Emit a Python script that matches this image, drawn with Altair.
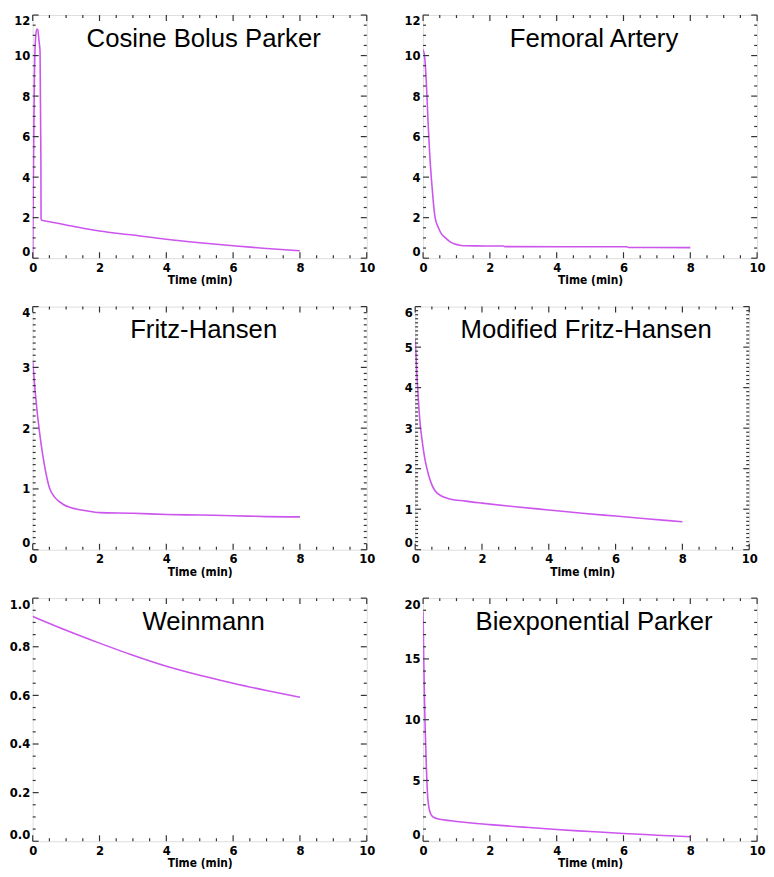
import altair as alt
import numpy as np
import pandas as pd

titles = ["Cosine Bolus Parker", "Femoral Artery", "Fritz-Hansen",
          "Modified Fritz-Hansen", "Weinmann", "Biexponential Parker"]

cbp_t = [0, 0.02, 0.05, 0.08, 0.12, 0.15, 0.19, 0.22, 0.245, 0.25, 0.27, 0.5, 1, 1.5, 2, 3, 4, 5, 6, 7, 8]
cbp_v = [0, 4.0, 8.8, 10.7, 11.3, 11.3, 10.7, 10.2, 5.0, 1.95, 1.87, 1.8, 1.64, 1.48, 1.34, 1.14, 0.93, 0.76, 0.61, 0.48, 0.37]

fa_t = [0, 0.05, 0.1, 0.15, 0.2, 0.25, 0.3, 0.36, 0.46, 0.55, 0.67, 0.8, 0.95, 1.1, 1.3, 2.4, 2.45, 6.1, 6.15, 8]
fa_v = [10.3, 9.9, 8.6, 6.7, 5.1, 3.9, 2.9, 2.0, 1.5, 1.2, 1.0, 0.82, 0.7, 0.64, 0.61, 0.6, 0.57, 0.56, 0.53, 0.52]

fh_t = [0, 0.1, 0.2, 0.3, 0.4, 0.5, 0.65, 0.8, 0.93, 1.1, 1.3, 1.6, 2, 3, 4, 5, 6, 7, 8]
fh_v = [3.1, 2.45, 1.95, 1.56, 1.25, 1.02, 0.87, 0.79, 0.74, 0.7, 0.67, 0.64, 0.61, 0.6, 0.58, 0.57, 0.56, 0.545, 0.54]

mfh_t = [0, 0.05, 0.1, 0.15, 0.2, 0.3, 0.4, 0.5, 0.6, 0.8, 1.0, 1.5, 2, 3, 4, 5, 6, 7, 8]
mfh_v = [5.2, 4.35, 3.65, 3.1, 2.75, 2.2, 1.85, 1.6, 1.45, 1.32, 1.26, 1.2, 1.15, 1.06, 0.98, 0.9, 0.83, 0.76, 0.69]

wm_t = [0, 1, 2, 3, 4, 5, 6, 7, 8]
wm_v = [0.925, 0.868, 0.815, 0.765, 0.72, 0.683, 0.65, 0.62, 0.592]

bp_t = [0, 0.02, 0.04, 0.06, 0.08, 0.1, 0.12, 0.14, 0.18, 0.22, 0.3, 0.4, 0.6, 1, 2, 3, 4, 5, 6, 7, 8]
bp_v = [18.9, 15.0, 12.0, 9.6, 7.8, 6.0, 4.6, 3.6, 2.7, 2.3, 2.0, 1.88, 1.77, 1.63, 1.37, 1.16, 0.96, 0.8, 0.64, 0.5, 0.37]

series_t = [cbp_t, fa_t, fh_t, mfh_t, wm_t, bp_t]
series_v = [cbp_v, fa_v, fh_v, mfh_v, wm_v, bp_v]

y_max = [12, 12, 4, 6, 1.0, 20]
y_major = [2, 2, 1, 1, 0.2, 5]
y_minor = [0.5, 0.5, 0.1, 0.1, 0.05, 1]
y_fmt = ["d", "d", "d", "d", ".1f", "d"]

x_max = 10
x_major = 2
x_minor = 0.5

W, H = 338, 246
LINE = "#cc55ee"
FRAME = "#333333"
FONT = "DejaVu Sans Condensed, Liberation Sans, sans-serif"
MAJ, MIN = 6, 3

AX_STYLE = dict(labelFont=FONT, labelFontWeight="bold", labelFontSize=13, labelColor="black",
                titleFont=FONT, titleFontWeight="bold", titleFontSize=12, titleColor="black",
                labelPadding=3, titlePadding=1, minExtent=0, ticks=False, grid=False, domain=False)


def tick_vals(top, step):
    n = int(round(top / step))
    return [round(k * step, 4) for k in range(n + 1)]


def panel(i):
    xs = alt.Scale(domain=[0, x_max], nice=False, zero=False)
    ys = alt.Scale(domain=[0, y_max[i]], nice=False, zero=False)
    df = pd.DataFrame({"t": series_t[i], "v": series_v[i]})
    ymaj = tick_vals(y_max[i], y_major[i])
    ymin = [v for v in tick_vals(y_max[i], y_minor[i]) if v not in ymaj]
    xmaj = tick_vals(x_max, x_major)
    xmin = [v for v in tick_vals(x_max, x_minor) if v not in xmaj]

    xaxis = alt.Axis(title="Time (min)", values=xmaj, format="d", labelFlush=False, **AX_STYLE)
    yaxis = alt.Axis(title=None, values=ymaj, format=y_fmt[i], labelFlush=True, **AX_STYLE)

    line = alt.Chart(df).mark_line(color=LINE, strokeWidth=1.6, clip=True,
                                   interpolate="monotone").encode(
        x=alt.X("t:Q", scale=xs, axis=xaxis),
        y=alt.Y("v:Q", scale=ys, axis=yaxis),
    )

    layers = [line]

    def hrule(vals, x0, x1):
        return alt.Chart(pd.DataFrame({"v": vals})).mark_rule(color=FRAME, strokeWidth=1.2).encode(
            y=alt.Y("v:Q", scale=ys, axis=yaxis), x=alt.value(x0), x2=alt.value(x1))

    def vrule(vals, y0, y1):
        return alt.Chart(pd.DataFrame({"t": vals})).mark_rule(color=FRAME, strokeWidth=1.2).encode(
            x=alt.X("t:Q", scale=xs, axis=xaxis), y=alt.value(y0), y2=alt.value(y1))

    layers += [
        hrule(ymaj, 0, MAJ), hrule(ymin, 0, MIN),
        hrule(ymaj, W - MAJ, W), hrule(ymin, W - MIN, W),
        vrule(xmaj, H - MAJ, H), vrule(xmin, H - MIN, H),
        vrule(xmaj, 0, MAJ), vrule(xmin, 0, MIN),
    ]

    title = alt.Chart(pd.DataFrame({"name": [titles[i]]})).mark_text(
        font="Liberation Sans", fontSize=26, align="center", baseline="middle", color="black"
    ).encode(x=alt.value(W / 2 + 4), y=alt.value(24), text="name:N")
    layers.append(title)

    return alt.layer(*layers).properties(width=W, height=H)


rows = [alt.hconcat(panel(2 * r), panel(2 * r + 1), spacing=28) for r in range(3)]
chart = alt.vconcat(*rows, spacing=18, padding=0).configure_view(
    stroke=FRAME, strokeWidth=1.8
).configure(background="white")

chart.save("out.html", embed_options={"renderer": "svg", "actions": False})
